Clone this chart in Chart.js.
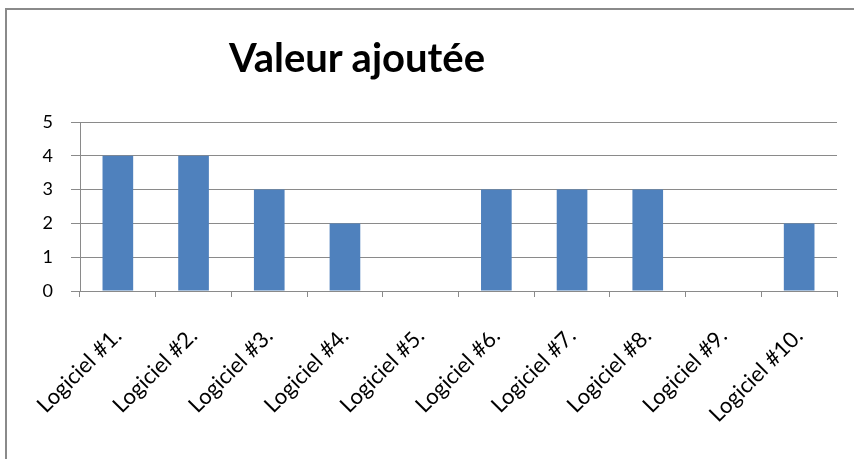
<!DOCTYPE html>
<html>
<head>
<meta charset="utf-8">
<script src="https://cdn.jsdelivr.net/npm/chart.js@4/dist/chart.umd.min.js"></script>
<style>
  html, body { margin: 0; padding: 0; background: #fff; }
  #wrap { position: relative; width: 854px; height: 459px; overflow: hidden; }
  #frame { position: absolute; left: 5px; top: 8px; width: 900px; height: 500px;
           border-top: 2px solid #8a8a8a; border-left: 2px solid #8a8a8a; box-sizing: border-box; }
  #title { position: absolute; left: 0; width: 714px; top: 31px; text-align: center;
           font-family: Lato, sans-serif; font-weight: bold; font-size: 40px; color: #000; line-height: 52px; }
  canvas { position: absolute; left: 0; top: 0; }
</style>
</head>
<body>
<div id="wrap">
  <div id="frame"></div>
  <canvas id="c" width="854" height="459"></canvas>
  <div id="title">Valeur ajoutée</div>
</div>
<script>
const categories = ["Logiciel #1.", "Logiciel #2.", "Logiciel #3.", "Logiciel #4.", "Logiciel #5.",
                    "Logiciel #6.", "Logiciel #7.", "Logiciel #8.", "Logiciel #9.", "Logiciel #10."];
const values = [4, 4, 3, 2, 0, 3, 3, 3, 0, 2];
const yTicks = [0, 1, 2, 3, 4, 5];

const gridColor = '#8a8a8a';
new Chart(document.getElementById('c'), {
  type: 'bar',
  data: {
    labels: categories,
    datasets: [{ data: values, backgroundColor: '#4F81BD', borderWidth: 0,
                 categoryPercentage: 1, barPercentage: 0.405 }]
  },
  options: {
    responsive: false,
    animation: false,
    devicePixelRatio: 1,
    layout: { padding: { left: 0, right: 17, top: 122, bottom: 0 } },
    plugins: { legend: { display: false }, title: { display: false }, tooltip: { enabled: false } },
    scales: {
      x: {
        afterFit: s => { s.height = 168; s.paddingLeft = 0; s.paddingRight = 0; },
        grid: { display: true, drawOnChartArea: false, offset: true, tickLength: 6, color: gridColor },
        border: { display: true, color: gridColor, width: 1 },
        ticks: { autoSkip: false, maxRotation: 45, minRotation: 45, padding: 26,
                 color: '#000', font: { family: 'Lato', size: 22 } }
      },
      y: {
        min: 0, max: 5,
        afterFit: s => { s.width = 80; s.paddingTop = 0; s.paddingBottom = 0; },
        afterBuildTicks: s => { s.ticks = yTicks.map(v => ({ value: v })); },
        grid: { color: gridColor, tickLength: 9 },
        border: { display: true, color: gridColor, width: 1 },
        ticks: { padding: 18, color: '#000', font: { family: 'Lato', size: 18 } }
      }
    }
  }
});
</script>
</body>
</html>
